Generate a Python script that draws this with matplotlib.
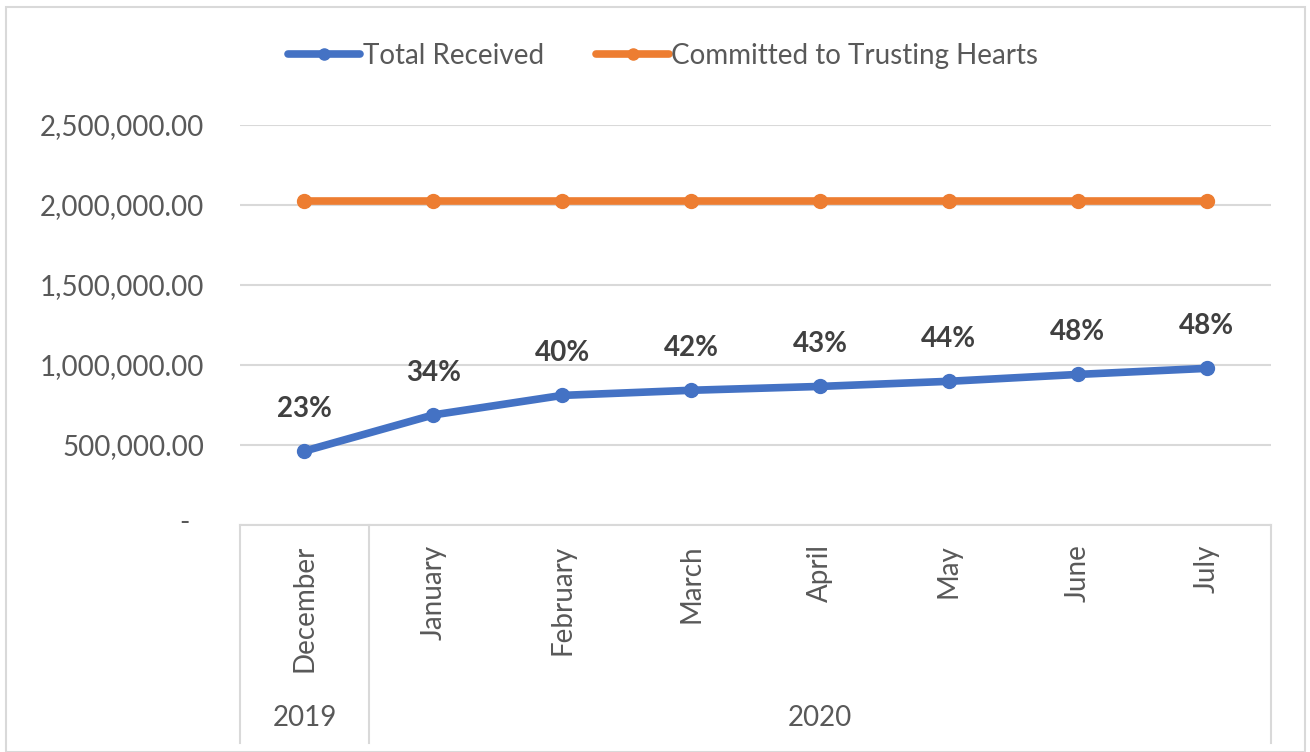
import matplotlib
matplotlib.use("Agg")
import matplotlib.pyplot as plt
import matplotlib.transforms as mtransforms
from matplotlib.ticker import FuncFormatter
from matplotlib.patches import Rectangle

plt.rcParams['font.family'] = ['Lato', 'DejaVu Sans']

months = ["December", "January", "February", "March", "April", "May", "June", "July"]
years = ["2019", "2020"]
year_spans = [(0, 0), (1, 7)]
total_received = [462000, 688000, 810000, 842000, 866000, 898000, 941000, 979000]
committed = [2025000] * 8
pct_labels = ["23%", "34%", "40%", "42%", "43%", "44%", "48%", "48%"]
yticks = [0, 500000, 1000000, 1500000, 2000000, 2500000]

BLUE = "#4472C4"
ORANGE = "#ED7D31"
TXT = "#595959"
GRID = "#D9D9D9"
FS = 20

W, H = 1310, 752
fig = plt.figure(figsize=(W / 100, H / 100), dpi=100)
fig.patch.set_facecolor("white")
fig.patches.append(Rectangle((6 / W, 0), (1305 - 6) / W, (H - 7) / H, transform=fig.transFigure,
                             fill=False, edgecolor="#D9D9D9", linewidth=1.5))

ax = fig.add_axes([240 / W, (H - 525) / H, (1271 - 240) / W, 400 / H])
x = list(range(len(months)))

l1, = ax.plot(x, total_received, color=BLUE, lw=5.5, marker="o", ms=10, solid_capstyle="round",
              label="Total Received", zorder=3)
l2, = ax.plot(x, committed, color=ORANGE, lw=5.5, marker="o", ms=10, solid_capstyle="round",
              label="Committed to Trusting Hearts", zorder=3)

for xi, yi, lab in zip(x, total_received, pct_labels):
    ax.annotate(lab, xy=(xi, yi), xytext=(0, 42), textcoords="offset pixels",
                ha="center", va="center", fontsize=FS, fontweight="bold", color="#404040")

ax.set_xlim(-0.5, len(months) - 0.5)
ax.set_ylim(0, 2500000)
ax.set_yticks(yticks)
ax.yaxis.set_major_formatter(FuncFormatter(lambda v, p: "" if v == 0 else f"{v:,.2f}"))
ax.annotate("-", xy=(0, 0), xycoords=("axes fraction", "data"), xytext=(-50, 2),
            textcoords="offset pixels", ha="right", va="center", fontsize=FS, color=TXT)
ax.tick_params(axis="y", length=0, pad=26, labelsize=FS, labelcolor=TXT)
ax.grid(axis="y", color=GRID, lw=1.5)
ax.set_axisbelow(True)

ax.set_xticks(x)
ax.set_xticklabels(months, rotation=90, va="top", ha="center")
ax.tick_params(axis="x", length=0, pad=14, labelsize=FS, labelcolor=TXT)

for s in ["top", "right", "left"]:
    ax.spines[s].set_visible(False)
ax.spines["bottom"].set_color(GRID)
ax.spines["bottom"].set_linewidth(1.5)

# category grouping lines and year labels
tr = mtransforms.blended_transform_factory(ax.transData, ax.transAxes)
depth = -(743 - 525) / 400
for bx in [-0.5, 0.5, len(months) - 0.5]:
    ax.plot([bx, bx], [0, depth], transform=tr, color=GRID, lw=1.5, clip_on=False)
for yr, (a, b) in zip(years, year_spans):
    ax.text((a + b) / 2, -(718 - 525) / 400, yr, transform=tr, ha="center", va="center",
            fontsize=FS, color=TXT)

leg = fig.legend(handles=[l1, l2], loc="center", bbox_to_anchor=(663 / W, (H - 56) / H),
                 ncol=2, frameon=False, fontsize=FS, labelcolor=TXT, handlelength=2.6,
                 handletextpad=0.1, columnspacing=1.9, markerscale=0.8)

fig.savefig("out.png", dpi=100, facecolor="white")
